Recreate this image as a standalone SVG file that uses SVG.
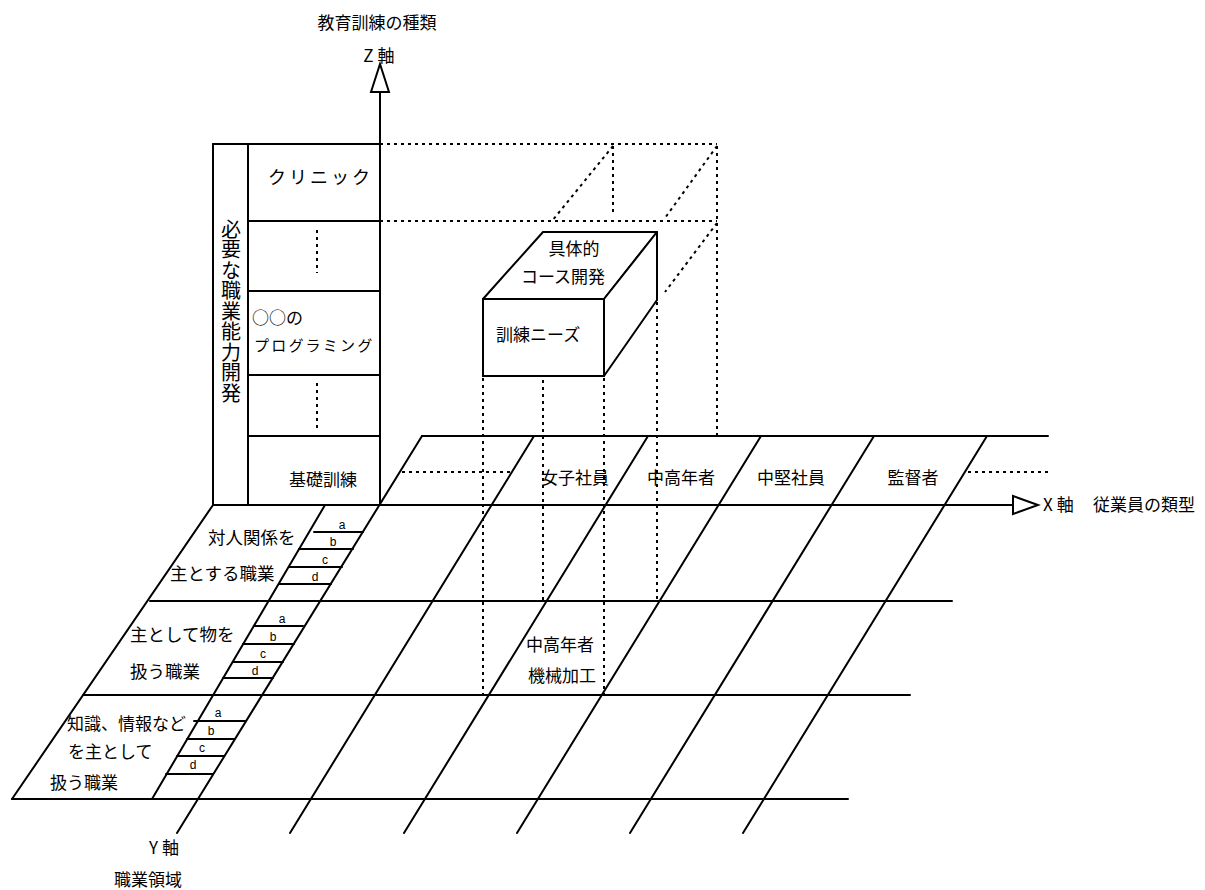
<svg xmlns="http://www.w3.org/2000/svg" width="1205" height="890" viewBox="0 0 1205 890">
<style>
.s{stroke:#000;stroke-width:2;fill:none;stroke-linecap:round}
.d{stroke:#000;stroke-width:2;fill:none;stroke-dasharray:3 4}
.t{font-family:"Noto Sans CJK JP","Noto Sans",sans-serif;font-size:17px;fill:#000}
.m{text-anchor:middle}
.l{font-family:"Liberation Sans",sans-serif;font-size:12px;fill:#000;text-anchor:middle}
</style>
<rect width="1205" height="890" fill="#fff"/>
<g id="connectors">
<line class="s" x1="380" y1="92" x2="380" y2="505"/>
<polygon points="380,64 371,92 389,92" fill="#fff" stroke="#000" stroke-width="2"/>
<line class="s" x1="213" y1="505" x2="1013" y2="505"/>
<polygon points="1013,496 1038,505 1013,514" fill="#fff" stroke="#000" stroke-width="2"/>
<line class="s" x1="422" y1="436" x2="177" y2="833"/>
</g>
<g id="panel">
<line class="s" x1="213" y1="144" x2="380" y2="144"/>
<line class="s" x1="213" y1="144" x2="213" y2="505"/>
<line class="s" x1="248" y1="144" x2="248" y2="505"/>
<line class="s" x1="248" y1="221" x2="380" y2="221"/>
<line class="s" x1="248" y1="291" x2="380" y2="291"/>
<line class="s" x1="248" y1="375" x2="380" y2="375"/>
<line class="s" x1="248" y1="436" x2="380" y2="436"/>
<line class="d" x1="317" y1="230" x2="317" y2="273"/>
<line class="d" x1="317" y1="383" x2="317" y2="428"/>
<text class="t" x="231" y="219" style="font-size:20px;writing-mode:vertical-rl;letter-spacing:0.5px">必要な職業能力開発</text>
<text class="t" x="268" y="184" style="font-size:18px;letter-spacing:3px">クリニック</text>
<text class="t" x="252" y="324">○○の</text>
<text class="t" x="254" y="351" style="font-size:15px;letter-spacing:2.2px">プログラミング</text>
<text class="t m" x="323" y="486">基礎訓練</text>
</g>
<g id="projection">
<line class="d" x1="380" y1="144" x2="717" y2="144"/>
<line class="d" x1="380" y1="221" x2="717" y2="221"/>
<line class="d" x1="613" y1="146" x2="613" y2="214"/>
<line class="d" x1="613" y1="146" x2="552" y2="221"/>
<line class="d" x1="717" y1="146" x2="665" y2="218"/>
<line class="d" x1="717" y1="223" x2="665" y2="292"/>
<line class="d" x1="717" y1="146" x2="717" y2="436"/>
<line class="d" x1="483" y1="378" x2="483" y2="695"/>
<line class="d" x1="543" y1="380" x2="543" y2="601"/>
<line class="d" x1="604" y1="378" x2="604" y2="695"/>
<line class="d" x1="657" y1="302" x2="657" y2="601"/>
<line class="d" x1="402" y1="472" x2="511" y2="472"/>
<line class="d" x1="968" y1="472" x2="1048" y2="472"/>
</g>
<g id="cube">
<polygon points="483,299 543,232 657,232 604,299" fill="#fff" stroke="#000" stroke-width="2" stroke-linejoin="round"/>
<polygon points="604,299 657,232 657,300 604,376" fill="#fff" stroke="#000" stroke-width="2" stroke-linejoin="round"/>
<rect x="483" y="299" width="121" height="77" fill="#fff" stroke="#000" stroke-width="2"/>
<text class="t m" x="574" y="255">具体的</text>
<text class="t m" x="563" y="283">コース開発</text>
<text class="t" x="496" y="341">訓練ニーズ</text>
</g>
<g id="floor">
<line class="s" x1="422" y1="436" x2="1048" y2="436"/>
<line class="s" x1="150" y1="601" x2="952" y2="601"/>
<line class="s" x1="83" y1="695" x2="910" y2="695"/>
<line class="s" x1="12" y1="799" x2="848" y2="799"/>
<line class="s" x1="213" y1="505" x2="12" y2="799"/>
<line class="s" x1="325" y1="505" x2="152" y2="799"/>
<line class="s" x1="534" y1="436" x2="290" y2="833"/>
<line class="s" x1="648" y1="436" x2="404" y2="833"/>
<line class="s" x1="761" y1="436" x2="517" y2="833"/>
<line class="s" x1="874" y1="436" x2="630" y2="833"/>
<line class="s" x1="987" y1="436" x2="743" y2="833"/>
</g>
<g id="subdivisions">
<line class="s" x1="314" y1="532" x2="363" y2="532"/>
<line class="s" x1="299" y1="549" x2="353" y2="549"/>
<line class="s" x1="289" y1="567" x2="342" y2="567"/>
<line class="s" x1="279" y1="584" x2="331" y2="584"/>
<text class="l" x="342" y="529">a</text><text class="l" x="333" y="546">b</text><text class="l" x="325" y="564">c</text><text class="l" x="315" y="581">d</text>
<line class="s" x1="254" y1="626" x2="303" y2="626"/>
<line class="s" x1="243" y1="644" x2="294" y2="644"/>
<line class="s" x1="233" y1="662" x2="283" y2="662"/>
<line class="s" x1="223" y1="678" x2="273" y2="678"/>
<text class="l" x="282" y="623">a</text><text class="l" x="273" y="641">b</text><text class="l" x="263" y="658">c</text><text class="l" x="255" y="675">d</text>
<line class="s" x1="194" y1="721" x2="245" y2="721"/>
<line class="s" x1="187" y1="739" x2="234" y2="739"/>
<line class="s" x1="177" y1="756" x2="224" y2="756"/>
<line class="s" x1="166" y1="774" x2="213" y2="774"/>
<text class="l" x="218" y="717">a</text><text class="l" x="211" y="735">b</text><text class="l" x="202" y="752">c</text><text class="l" x="193" y="769">d</text>
</g>
<g id="labels">
<text class="t m" x="377" y="29">教育訓練の種類</text>
<text class="t m" x="381" y="62" style="letter-spacing:4px">Z軸</text>
<text class="t" x="1043" y="511" style="letter-spacing:4px">X軸</text>
<text class="t" x="1093" y="511">従業員の類型</text>
<text class="t m" x="166" y="854" style="letter-spacing:4px">Y軸</text>
<text class="t m" x="148" y="886">職業領域</text>
<text class="t m" x="575" y="484">女子社員</text>
<text class="t m" x="681" y="484">中高年者</text>
<text class="t m" x="791" y="484">中堅社員</text>
<text class="t m" x="913" y="484">監督者</text>
<text class="t" x="526" y="651">中高年者</text>
<text class="t" x="528" y="682">機械加工</text>
<text class="t" x="208" y="544" style="font-size:17.5px">対人関係を</text>
<text class="t" x="170" y="580" style="font-size:17.5px">主とする職業</text>
<text class="t" x="130" y="641" style="font-size:17.5px">主として物を</text>
<text class="t" x="130" y="678" style="font-size:17.5px">扱う職業</text>
<text class="t" x="67" y="730">知識、情報など</text>
<text class="t" x="68" y="758">を主として</text>
<text class="t" x="50" y="789">扱う職業</text>
</g>
</svg>
